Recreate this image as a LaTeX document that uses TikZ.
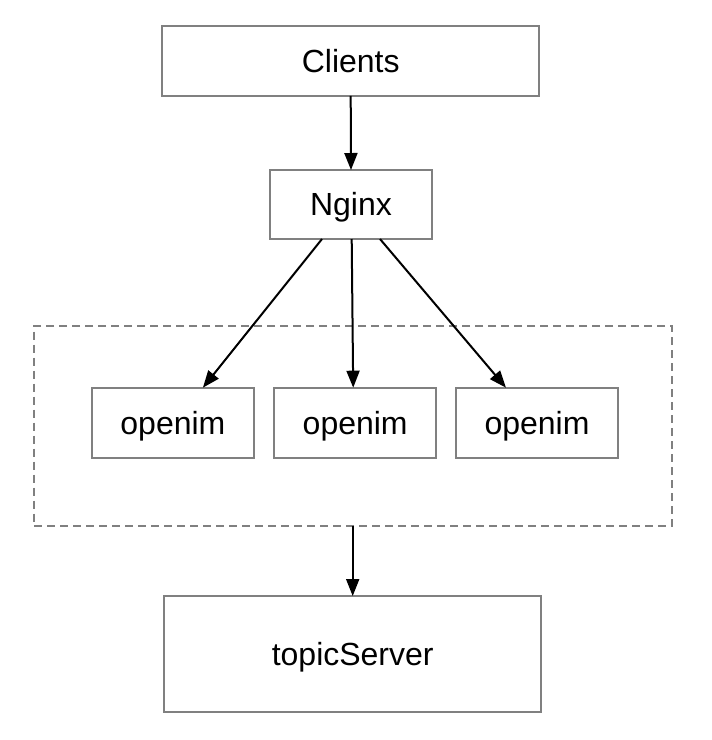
\documentclass[tikz,border=0pt]{standalone}
\usepackage{fontspec}
\setmainfont{Liberation Sans}
\usetikzlibrary{arrows.meta}
\begin{document}
\begin{tikzpicture}[x=1pt,y=-1pt,
  box/.style={draw=black!50, line width=2pt, rectangle, inner sep=0pt, outer sep=0pt,
    font=\fontsize{32}{37}\selectfont, text=black, text height=22.9pt, text depth=0pt},
  grp/.style={draw=black!50, line width=2pt, dash pattern=on 8pt off 5pt, rectangle, inner sep=0pt, outer sep=0pt},
  conn/.style={line width=2pt, draw=black, -{Triangle[length=17pt,width=13pt]}}]
\useasboundingbox (0,0) rectangle (712,740);
\node[box, minimum width=376.7pt, minimum height=69.7pt] (clients) at (350.7,60.9) {Clients};
\node[box, minimum width=162pt, minimum height=69pt] (nginx) at (351,204.5) {Nginx};
\node[grp, minimum width=638pt, minimum height=200pt] (group) at (353,425.7) {};
\node[box, minimum width=162.3pt, minimum height=70pt] (o1) at (172.9,422.7) {openim};
\node[box, minimum width=162.3pt, minimum height=70pt] (o2) at (355.2,422.7) {openim};
\node[box, minimum width=162.6pt, minimum height=70pt] (o3) at (537,422.7) {openim};
\node[box, minimum width=376.7pt, minimum height=116pt] (topic) at (352.7,654) {topicServer};
\draw[conn] (clients.south) -- (nginx.north);
\draw[conn] ([xshift=-29pt]nginx.south) -- ([xshift=30pt]o1.north);
\draw[conn] ([xshift=0.7pt]nginx.south) -- ([xshift=-2pt]o2.north);
\draw[conn] ([xshift=29pt]nginx.south) -- ([xshift=-31pt]o3.north);
\draw[conn] ([xshift=-0.3pt]group.south) -- ([xshift=0pt]topic.north);
\end{tikzpicture}
\end{document}
